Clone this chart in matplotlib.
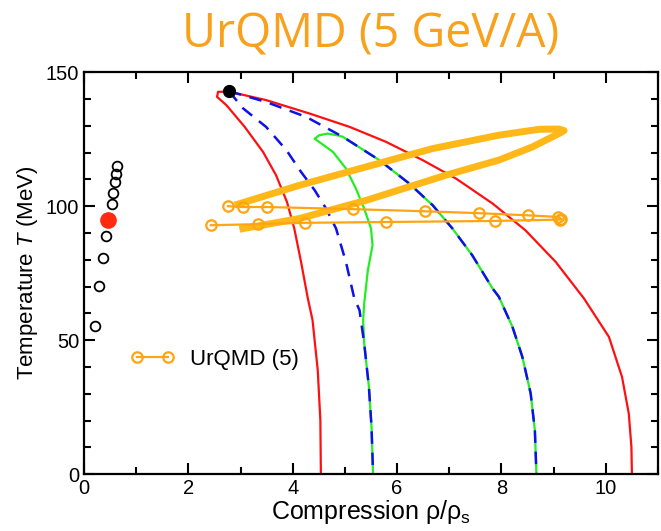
import matplotlib
matplotlib.use("Agg")
import matplotlib.pyplot as plt
from matplotlib.ticker import MultipleLocator

plt.rcParams["font.family"] = ["Liberation Sans", "DejaVu Sans"]
plt.rcParams["mathtext.fontset"] = "custom"
plt.rcParams["mathtext.rm"] = "Liberation Sans"
plt.rcParams["mathtext.it"] = "Liberation Sans:italic"

# ---- data ----
# red boundary (left foot -> top -> right foot)
red_x = [4.54, 4.53, 4.48, 4.38, 4.29, 4.16, 4.03, 3.89, 3.68, 3.43, 3.08,
         2.73, 2.55, 2.57, 2.79, 3.49, 4.32, 5.09, 5.79, 6.49, 7.13, 7.83,
         8.46, 9.04, 9.58, 10.06, 10.31, 10.44, 10.49, 10.50]
red_y = [0, 20.1, 38.8, 57.5, 65.6, 79.2, 91.7, 101.6, 111.6, 120.3, 129.6,
         137.7, 140.8, 142.7, 142.7, 139.6, 134.6, 129.6, 124.0, 117.2,
         110.3, 101.0, 91.0, 79.2, 65.6, 51.2, 36.3, 22.6, 10.2, 0]

# blue dashed boundaries
blue_in_x = [2.78, 3.05, 3.49, 3.88, 4.16, 4.42, 4.64, 4.83, 5.02, 5.18,
             5.28, 5.37, 5.46, 5.51, 5.54]
blue_in_y = [142.9, 136.5, 129.6, 120.9, 112.8, 106.0, 99.1, 91.7, 79.2,
             65.6, 61.2, 48.8, 32.6, 17.7, 0]
blue_out_x = [2.78, 3.49, 4.26, 4.96, 5.66, 6.23, 6.68, 7.06, 7.44, 7.83,
              7.95, 8.21, 8.40, 8.56, 8.64, 8.67]
blue_out_y = [142.9, 138.9, 133.3, 125.9, 117.2, 108.5, 100.4, 91.7, 81.7,
              69.3, 66.2, 55.0, 43.8, 30.1, 16.4, 0]

# green boundary (inner foot -> top hook -> outer foot)
green_x = [5.54, 5.51, 5.46, 5.37, 5.35, 5.37, 5.44, 5.53, 5.50, 5.37, 5.21,
           5.02, 4.77, 4.42, 4.51, 4.67, 4.89, 4.96, 5.66, 6.23, 6.68, 7.06,
           7.44, 7.83, 7.95, 8.21, 8.40, 8.56, 8.64, 8.67]
green_y = [0, 17.7, 32.6, 48.8, 57.5, 63.7, 76.1, 85.4, 91.7, 99.1, 106.6,
           114.1, 120.3, 125.2, 126.5, 127.1, 126.3, 125.9, 117.2, 108.5,
           100.4, 91.7, 81.7, 69.3, 66.2, 55.0, 43.8, 30.1, 16.4, 0]

# thick orange loop
loop_x = [2.89, 4.13, 5.41, 6.68, 7.95, 8.72, 9.10, 9.20, 9.10, 8.59, 7.95,
          6.94, 5.41, 4.13, 2.98]
loop_y = [100.4, 107.8, 114.7, 121.5, 126.5, 128.7, 128.8, 128.2, 127.1,
          122.1, 117.2, 111.6, 102.2, 95.4, 91.4]

# UrQMD (5) trajectory
urqmd_x = [2.43, 3.33, 4.23, 5.79, 7.87, 9.13, 9.15, 9.09, 8.50, 7.57, 6.54,
           5.16, 3.51, 3.05, 2.76]
urqmd_y = [92.9, 93.3, 93.8, 94.1, 94.5, 95.0, 95.2, 96.0, 96.6, 97.4, 98.1,
           98.9, 99.7, 99.7, 100.0]

# open black circles near rho ~ 0
circ_x = [0.21, 0.28, 0.37, 0.42, 0.54, 0.56, 0.59, 0.62, 0.64]
circ_y = [55.3, 70.1, 80.7, 88.8, 100.7, 105.0, 109.0, 112.0, 115.0]
red_dot = (0.46, 95.0)
black_dot = (2.78, 142.9)

RED = "#ff1010"
BLUE = "#1010e8"
GREEN = "#22ee22"
ORANGE = "#ffa512"
GOLD = "#ffb818"

fig = plt.figure(figsize=(6.61, 5.31), dpi=100)
ax = fig.add_axes([0.127, 0.107, 0.8685, 0.757])

ax.plot(red_x, red_y, color=RED, lw=1.6)
ax.plot(green_x, green_y, color=GREEN, lw=1.6)
ax.plot(blue_in_x, blue_in_y, color=BLUE, lw=1.8, dashes=(5, 3.5))
ax.plot(blue_out_x, blue_out_y, color=BLUE, lw=1.8, dashes=(5, 3.5))
ax.plot(loop_x, loop_y, color=GOLD, lw=5.0, solid_capstyle="butt",
        solid_joinstyle="round")
ax.plot(urqmd_x, urqmd_y, color=ORANGE, lw=1.6, marker="o", ms=7.5,
        mfc="none", mec=ORANGE, mew=1.6, label="UrQMD (5)")

ax.plot(circ_x, circ_y, "o", ms=7, mfc="none", mec="black", mew=1.3)
ax.plot(*red_dot, "o", ms=11, color="#ff2a10")
ax.plot(*black_dot, "o", ms=8.5, color="black")

ax.set_xlim(0, 11)
ax.set_ylim(0, 150)
ax.xaxis.set_major_locator(MultipleLocator(2))
ax.xaxis.set_minor_locator(MultipleLocator(1))
ax.yaxis.set_major_locator(MultipleLocator(50))
ax.yaxis.set_minor_locator(MultipleLocator(10))
ax.tick_params(which="both", direction="in", top=True, right=True, width=1.5)
ax.tick_params(which="major", length=8, labelsize=14.5)
ax.tick_params(which="minor", length=5)
for s in ax.spines.values():
    s.set_linewidth(1.6)

ax.set_xlabel(r"Compression ρ/ρ$_\mathrm{s}$", fontsize=18, labelpad=0)
ax.set_ylabel(r"Temperature $T$ (MeV)", fontsize=16, labelpad=4)

ax.legend(loc="center left", bbox_to_anchor=(0.080, 0.286), frameon=False,
          fontsize=16, handlelength=2.0, handletextpad=0.7, numpoints=2,
          borderpad=0, borderaxespad=0)

fig.text(0.56, 0.934, "UrQMD (5 GeV/A)", ha="center", va="center",
         fontsize=33.5, color="#f8a11c", family="Open Sans")

fig.savefig("out.png", dpi=100)
